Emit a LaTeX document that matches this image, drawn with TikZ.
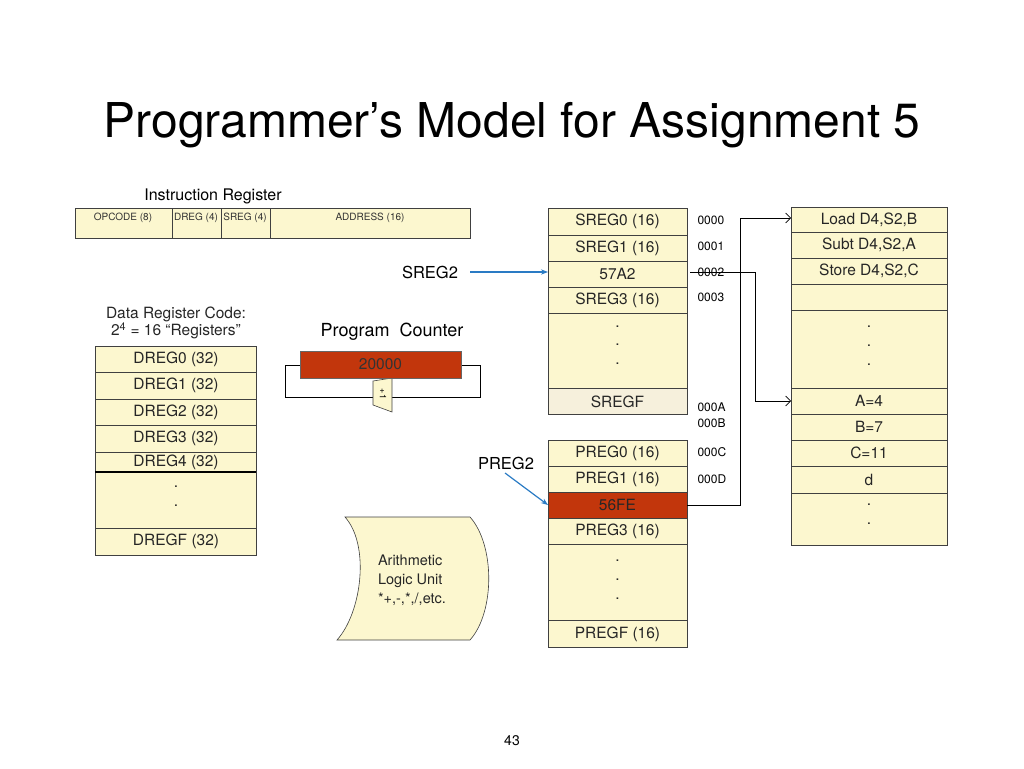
\documentclass[tikz,border=0pt]{standalone}
\usepackage{fontspec}
\setmainfont{TeX Gyre Heros}
\usetikzlibrary{arrows.meta}
\definecolor{cell}{HTML}{FCF7CF}
\definecolor{cellb}{HTML}{F6F0DC}
\definecolor{pcred}{HTML}{C2360C}
\definecolor{blu}{HTML}{2A7BC4}
\begin{document}
\begin{tikzpicture}[x=1pt,y=-1pt,
  box/.style={draw=black!75,line width=0.6pt,fill=cell},
  txt/.style={font=\fontsize{15.5}{17}\selectfont,text=black!85},
  small/.style={font=\fontsize{10}{11}\selectfont,text=black!80},
  addr/.style={font=\fontsize{12}{13}\selectfont},
  arr/.style={-{Straight Barb[length=5pt]},line width=0.6pt},
  barr/.style={-{Stealth[length=7pt]},draw=blu,line width=1.2pt}]
\useasboundingbox (0,0) rectangle (1024,768);
\node[font=\fontsize{48}{52}\selectfont] (title) at (512,125) {Programmer’s Model for Assignment 5};
% instruction register
\node[font=\fontsize{16}{17}\selectfont] (irl) at (213,196) {Instruction Register};
\draw[box] (75,208) rectangle (470,238);
\draw[black!75] (172,208)--(172,238) (221,208)--(221,238) (270,208)--(270,238);
\node[small] (op) at (123,218) {OPCODE (8)};
\node[small] (dr) at (196,218) {DREG (4)};
\node[small] (sr) at (245,218) {SREG (4)};
\node[small] (ad) at (370,218) {ADDRESS (16)};
% data registers
\node[txt,align=center] (drc) at (176,323) {Data Register Code:\\2\textsuperscript{4} = 16 “Registers”};
\foreach \a/\b/\t [count=\i] in {346/372/DREG0 (32),372/399/DREG1 (32),399/425/DREG2 (32),425/452/DREG3 (32),452/472/DREG4 (32),528/555/DREGF (32)}{
  \draw[box] (95,\a) rectangle (256,\b);
  \node[txt] (d\i) at (176,{(\a+\b)/2}) {\t};}
\draw[box] (95,472) rectangle (256,528);
\draw[line width=1.5pt] (95,472)--(256,472);
\node[txt] (dd1) at (176,487) {.};
\node[txt] (dd2) at (176,506) {.};
% program counter
\node[font=\fontsize{18}{19}\selectfont] (pcl) at (392,332) {Program\ \ Counter};
\draw[line width=0.6pt] (461,365)--(480,365)--(480,397)--(285,397)--(285,365)--(300,365);
\draw[fill=cell,draw=black!75,line width=0.6pt] (373,381)--(392,378)--(392,412)--(373,405)--cycle;
\node[font=\fontsize{9}{10}\selectfont,rotate=-90] (p1) at (383,394) {+1};
\node[draw=black!60,fill=pcred,minimum width=161pt,minimum height=27pt,inner sep=0pt,txt,text=black!80] (pc) at (380.5,364.5) {20000};
% SREG
\foreach \a/\b/\t [count=\i] in {208/235/SREG0 (16),235/261/SREG1 (16),261/287/57A2,287/313/SREG3 (16)}{
  \draw[box] (548,\a) rectangle (687,\b);
  \node[txt] (s\i) at (617.5,{(\a+\b)/2}) {\t};}
\draw[box] (548,313) rectangle (687,388);
\foreach \y in {327,345,364} \node[txt] at (617.5,\y) {.};
\draw[box,fill=cellb] (548,388) rectangle (687,414);
\node[txt] (sf) at (617.5,402) {SREGF};
% PREG
\draw[box] (548,440) rectangle (687,466); \node[txt] (pr0) at (617.5,453) {PREG0 (16)};
\draw[box] (548,466) rectangle (687,492); \node[txt] (pr1) at (617.5,479) {PREG1 (16)};
\draw[box,fill=pcred] (548,492) rectangle (687,518); \node[txt] (pr2) at (617.5,505) {56FE};
\draw[box] (548,518) rectangle (687,544); \node[txt] (pr3) at (617.5,531) {PREG3 (16)};
\draw[box] (548,544) rectangle (687,620);
\foreach \y in {561,580,599} \node[txt] at (617.5,\y) {.};
\draw[box] (548,620) rectangle (687,647); \node[txt] (prf) at (617.5,634) {PREGF (16)};
% addresses
\foreach \y/\t in {220/0000,246/0001,272/0002,297/0003,407/000A,423/000B,452/000C,479/000D}
  \node[addr,anchor=west] at (694,\y) {\t};
% memory
\foreach \a/\b/\t [count=\i] in {207/232/{Load D4,S2,B},232/258/{Subt D4,S2,A},258/284/{Store D4,S2,C},284/310/{},388/414/{A=4},414/440/{B=7},440/466/{C=11},466/493/d}{
  \draw[box] (791,\a) rectangle (947,\b);
  \node[txt] (m\i) at (869,{(\a+\b)/2}) {\t};}
\draw[box] (791,310) rectangle (947,388);
\foreach \y in {327,346,365} \node[txt] at (869,\y) {.};
\draw[box] (791,493) rectangle (947,545);
\foreach \y in {505,524} \node[txt] at (869,\y) {.};
% connectors
\coordinate (mA) at (791,401);
\coordinate (mL) at (791,218);
\draw[arr] (687,505) -| (740,218) -- (mL);
\draw[arr] (690,272) -| (755,401) -- (mA);
% pointers
\node[font=\fontsize{16.5}{18}\selectfont] (sreg2) at (430,272) {SREG2};
\node[font=\fontsize{16.5}{18}\selectfont] (preg2) at (506,463) {PREG2};
\draw[barr] (470,272) -- (548,272);
\draw[barr] (505,473) -- (548,505);
% ALU
\draw[box] (345,517) -- (470,517) .. controls (495,545) and (495,612) .. (470,640) -- (337,640) .. controls (362,612) and (370,545) .. (345,517) -- cycle;
\node[txt,align=left,font=\fontsize{14.5}{19}\selectfont] (alu) at (412,580) {Arithmetic\\Logic Unit\\*+,-,*,/,etc.};
\node[font=\fontsize{14}{15}\selectfont] (pg) at (512,741) {43};
\end{tikzpicture}
\end{document}
